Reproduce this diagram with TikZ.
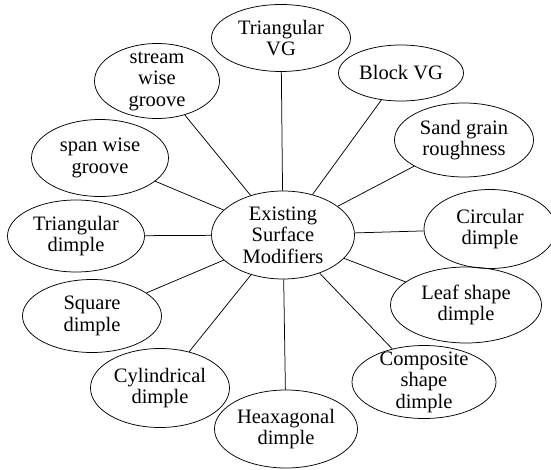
\documentclass[tikz,border=0pt]{standalone}
\usepackage{fontspec}
\setmainfont{Liberation Serif}
\newfontfamily\bubblefont{Liberation Serif}
\usetikzlibrary{shapes.geometric}

\begin{document}
\begin{tikzpicture}[
  x=1pt, y=-1pt,
  bubble/.style={ellipse, draw, line width=0.75pt, inner sep=0pt},
  txt/.style={align=center, inner sep=0pt, font=\bubblefont\fontsize{20.5}{21.5}\selectfont},
  link/.style={line width=0.75pt}
]
  \useasboundingbox (0,0) rectangle (551,470);

  \node[bubble, minimum width=143pt, minimum height=88pt, label={[txt]center:Existing\\Surface\\Modifiers}] (core) at (283,235) {};

  \node[bubble, minimum width=139pt, minimum height=67pt, label={[txt]center:Triangular\\VG}] (triVG) at (281,38) {};
  \node[bubble, minimum width=125pt, minimum height=56pt, label={[txt]center:Block VG}] (blockVG) at (401,73) {};
  \node[bubble, minimum width=139pt, minimum height=74pt, label={[txt]center:Sand grain\\roughness}] (sand) at (464,140) {};
  \node[bubble, minimum width=132pt, minimum height=79pt, label={[txt]center:Circular\\dimple}] (circDim) at (490,229) {};
  \node[bubble, minimum width=151pt, minimum height=76pt, label={[txt]center:Leaf shape\\dimple}] (leafDim) at (466,305) {};
  \node[bubble, minimum width=144pt, minimum height=73pt, label={[txt]center:Composite\\shape\\dimple}] (compDim) at (424,382) {};
  \node[bubble, minimum width=143pt, minimum height=78pt, label={[txt]center:Heaxagonal\\dimple}] (hexDim) at (286,429) {};
  \node[bubble, minimum width=139pt, minimum height=79pt, label={[txt]center:Cylindrical\\dimple}] (cylDim) at (160,388) {};
  \node[bubble, minimum width=139pt, minimum height=73pt, label={[txt]center:Square\\dimple}] (sqDim) at (92,316) {};
  \node[bubble, minimum width=137pt, minimum height=72pt, label={[txt]center:Triangular\\dimple}] (triDim) at (76,236) {};
  \node[bubble, minimum width=137pt, minimum height=77pt, label={[txt]center:span wise\\groove}] (spanGr) at (100,158) {};
  \node[bubble, minimum width=125pt, minimum height=75pt, label={[txt]center:stream\\wise\\groove}] (streamGr) at (157,81) {};

  \draw[link] (core) -- (triVG);
  \draw[link] (core) -- (blockVG);
  \draw[link] (core) -- (sand);
  \draw[link] (core) -- (circDim);
  \draw[link] (core) -- (leafDim);
  \draw[link] (core) -- (compDim);
  \draw[link] (core) -- (hexDim);
  \draw[link] (core) -- (cylDim);
  \draw[link] (core) -- (sqDim);
  \draw[link] (core) -- (triDim);
  \draw[link] (core) -- (spanGr);
  \draw[link] (core) -- (streamGr);
\end{tikzpicture}
\end{document}
